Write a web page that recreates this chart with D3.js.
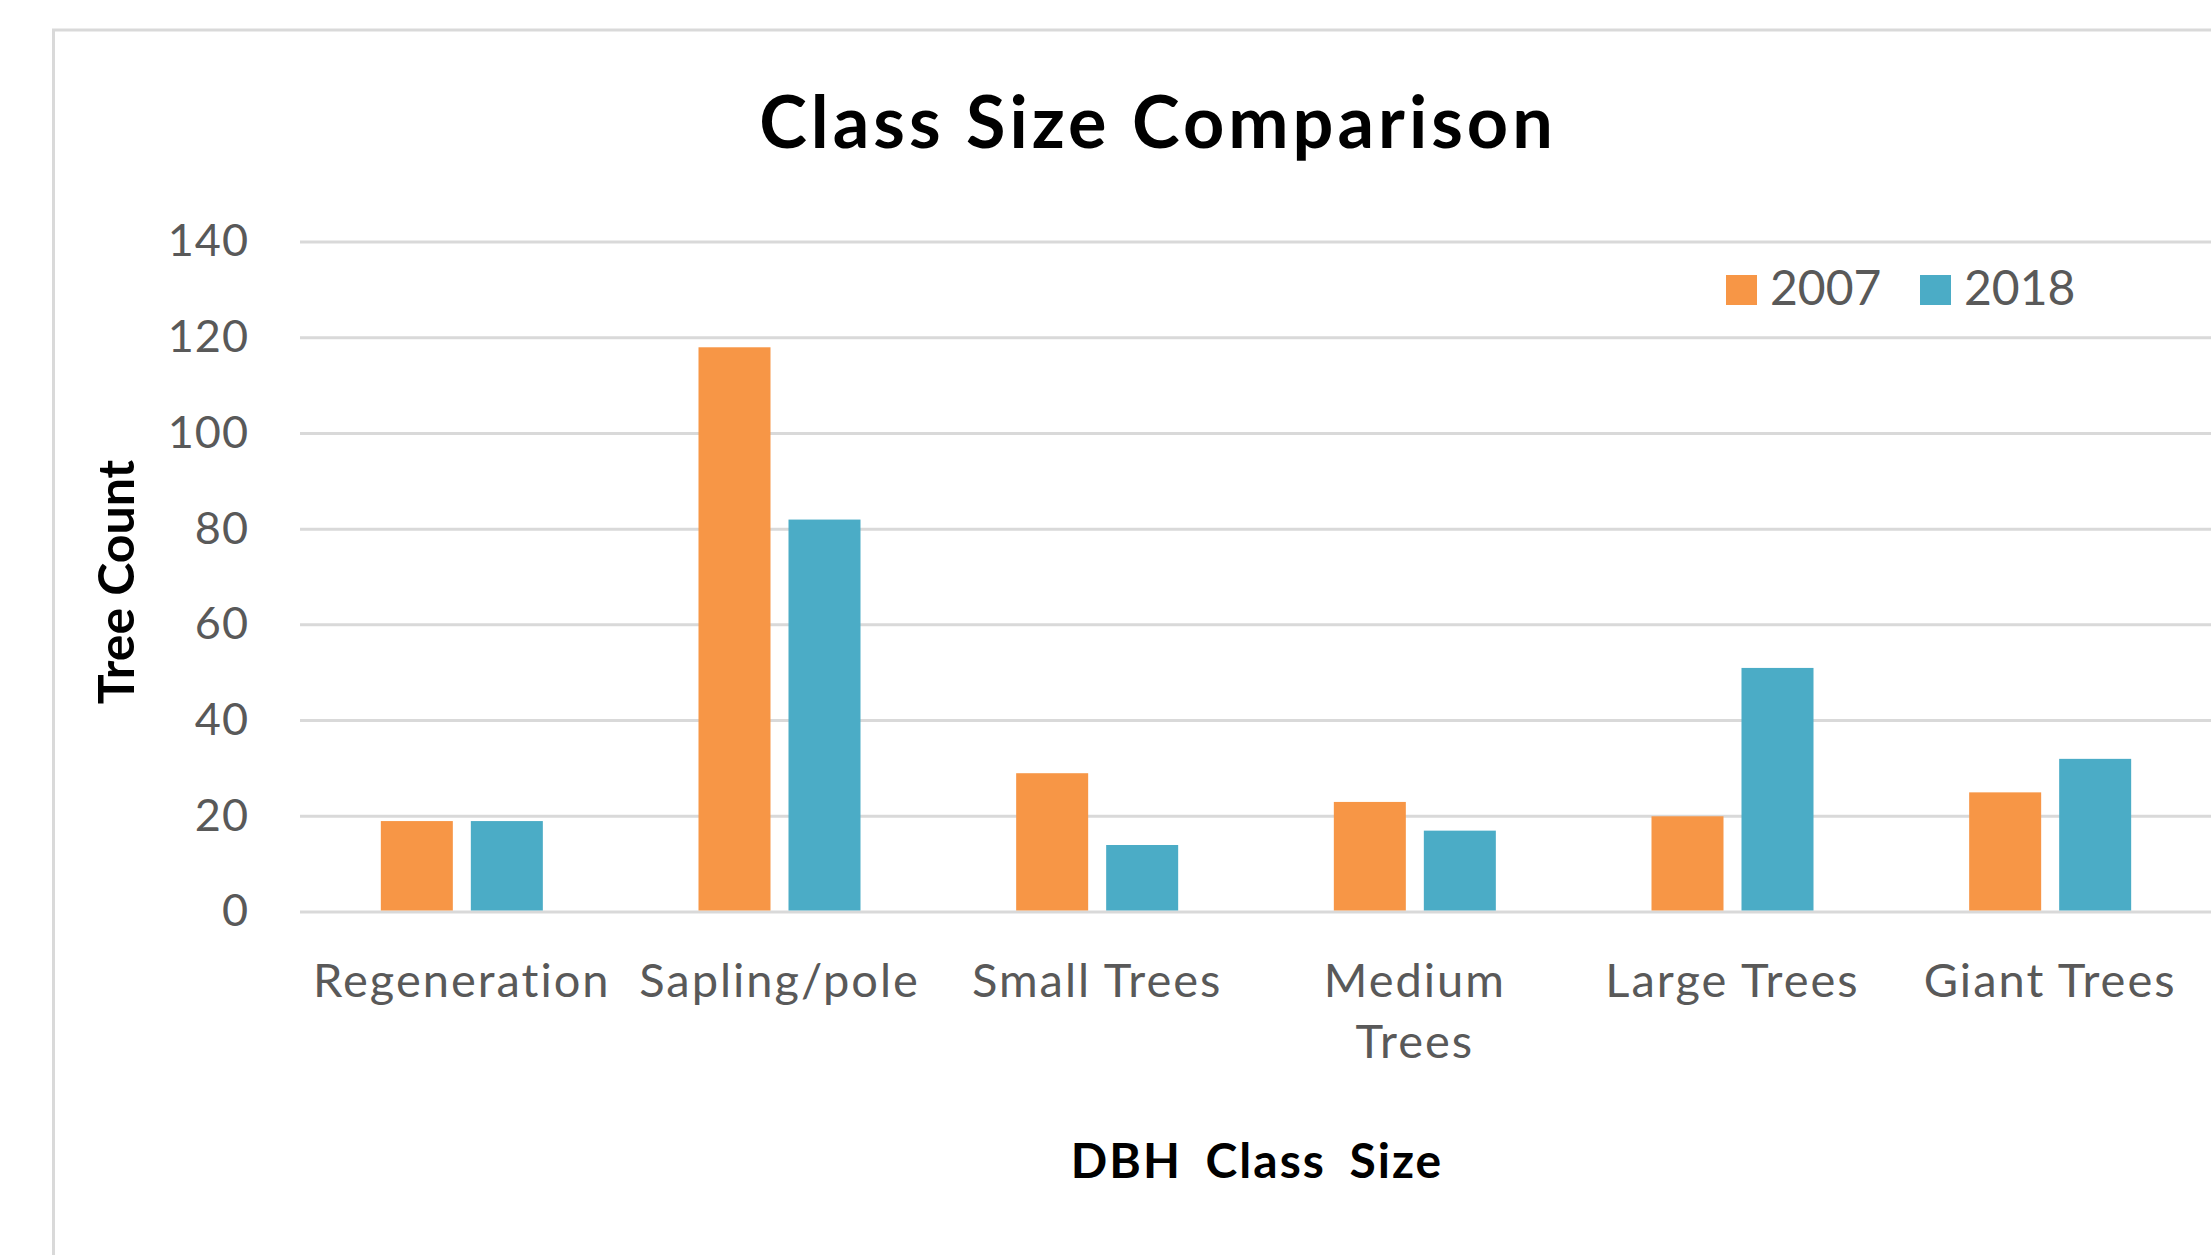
<!DOCTYPE html>
<html><head><meta charset="utf-8">
<script src="https://cdn.jsdelivr.net/npm/d3@7/dist/d3.min.js"></script>
<style>
html,body{margin:0;padding:0;background:#fff;overflow:hidden}
text{font-family:Lato,"Open Sans",sans-serif}
</style></head>
<body>
<svg id="chart" width="2211" height="1255"></svg>
<script>
const categories = ["Regeneration","Sapling/pole","Small Trees","Medium Trees","Large Trees","Giant Trees"];
const seriesNames = ["2007","2018"];
const values2007 = [19,118,29,23,20,25];
const values2018 = [19,82,14,17,51,32];
const yTicks = [0,20,40,60,80,100,120,140];
const colors = ["#F79646","#4BACC6"];

const svg = d3.select("#chart");
const W = 2211, H = 1255;

// chart border
svg.append("rect").attr("x",53.5).attr("y",30).attr("width",W+20).attr("height",H+20)
  .attr("fill","#fff").attr("stroke","#d9d9d9").attr("stroke-width",3);

const x0 = d3.scaleBand().domain(categories).range([303,2209]).paddingInner(0.49).paddingOuter(0.245);
const x1 = d3.scaleBand().domain(seriesNames).range([0,x0.bandwidth()]).paddingInner(0.2);
const y = d3.scaleLinear().domain([0,140]).range([912,242]);

// gridlines
svg.append("g").selectAll("line").data(yTicks).join("line")
  .attr("x1",300).attr("x2",W).attr("y1",d=>y(d)).attr("y2",d=>y(d))
  .attr("stroke","#d9d9d9").attr("stroke-width",3);

// y tick labels
svg.append("g").selectAll("text").data(yTicks).join("text")
  .attr("x",249).attr("y",d=>y(d)).attr("dy","0.32em").attr("text-anchor","end")
  .attr("font-size",45).attr("fill","#595959").attr("letter-spacing",1).text(d=>d);

// bars
const data = categories.map((c,i)=>({cat:c, vals:[values2007[i],values2018[i]]}));
const groups = svg.append("g").selectAll("g").data(data).join("g")
  .attr("transform",d=>`translate(${x0(d.cat)},0)`);
groups.selectAll("rect").data(d=>d.vals.map((v,j)=>({s:seriesNames[j],v,j}))).join("rect")
  .attr("x",d=>x1(d.s)).attr("width",x1.bandwidth())
  .attr("y",d=>y(d.v)).attr("height",d=>y(0)-1.5-y(d.v))
  .attr("fill",d=>colors[d.j]);

// x labels with wrapping
const xl = svg.append("g");
categories.forEach(c=>{
  const cx = x0(c)+x0.bandwidth()/2;
  const t = xl.append("text").attr("x",cx).attr("y",997).attr("text-anchor","middle")
    .attr("font-size",47).attr("fill","#595959").attr("letter-spacing",2).text(c);
  if (t.node().getComputedTextLength() > 300 && c.includes(" ")) {
    const words = c.split(" ");
    t.text(null);
    words.forEach((w,k)=>{
      t.append("tspan").attr("x",cx).attr("y",997+k*61).text(w);
    });
  }
});

// title
svg.append("text").attr("x",1158).attr("y",148).attr("text-anchor","middle")
  .attr("font-size",72).attr("font-weight","bold").attr("letter-spacing",4).attr("fill","#000").text("Class Size Comparison");

// axis titles
svg.append("text").attr("x",1257).attr("y",1178).attr("text-anchor","middle")
  .attr("font-size",48).attr("font-weight","bold").attr("letter-spacing",2).attr("word-spacing",10)
  .attr("fill","#000").text("DBH Class Size");
svg.append("text").attr("transform","translate(134,582) rotate(-90)").attr("text-anchor","middle")
  .attr("font-size",50).attr("font-weight","bold").attr("fill","#000").text("Tree Count");

// legend
const legX = [1726,1920];
seriesNames.forEach((s,i)=>{
  svg.append("rect").attr("x",legX[i]).attr("y",275).attr("width",31).attr("height",30).attr("fill",colors[i]);
  svg.append("text").attr("x",legX[i]+44).attr("y",305).attr("font-size",48).attr("fill","#595959").text(s);
});
</script>
</body></html>
